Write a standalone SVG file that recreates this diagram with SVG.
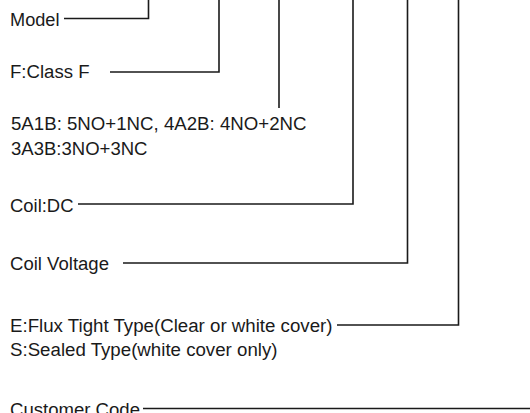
<svg xmlns="http://www.w3.org/2000/svg" width="530" height="413" viewBox="0 0 530 413">
<style>
text{font-family:"Liberation Sans",Arial,sans-serif;font-size:18px;fill:#1a1a1a}
.c{fill:none;stroke:#1a1a1a;stroke-width:1.6}
</style>
<rect width="530" height="413" fill="#fff"/>
<g id="model"><text x="10" y="26" textLength="49.5" lengthAdjust="spacingAndGlyphs">Model</text></g>
<g id="class"><text x="10" y="77.5" textLength="79.5" lengthAdjust="spacingAndGlyphs">F:Class F</text></g>
<g id="contacts"><text x="11" y="129.5" textLength="295.5" lengthAdjust="spacingAndGlyphs">5A1B: 5NO+1NC, 4A2B: 4NO+2NC</text><text x="11" y="155" textLength="136.5" lengthAdjust="spacingAndGlyphs">3A3B:3NO+3NC</text></g>
<g id="coil"><text x="10" y="211.5" textLength="63.5" lengthAdjust="spacingAndGlyphs">Coil:DC</text></g>
<g id="voltage"><text x="10" y="270" textLength="99" lengthAdjust="spacingAndGlyphs">Coil Voltage</text></g>
<g id="type"><text x="10" y="332" textLength="322.5" lengthAdjust="spacingAndGlyphs">E:Flux Tight Type(Clear or white cover)</text><text x="10" y="355.5" textLength="267.5" lengthAdjust="spacingAndGlyphs">S:Sealed Type(white cover only)</text></g>
<g id="customer"><text x="10" y="415.5" textLength="130" lengthAdjust="spacingAndGlyphs">Customer Code</text></g>
<g id="connectors">
<polyline class="c" points="64,18.5 148.5,18.5 148.5,0"/>
<polyline class="c" points="110,72 219,72 219,0"/>
<line class="c" x1="279" y1="108" x2="279" y2="0"/>
<polyline class="c" points="78,204 353,204 353,0"/>
<polyline class="c" points="123,263 407.5,263 407.5,0"/>
<polyline class="c" points="337,325 458.5,325 458.5,0"/>
<line class="c" x1="143" y1="408.5" x2="530" y2="408.5"/>
</g>
</svg>
